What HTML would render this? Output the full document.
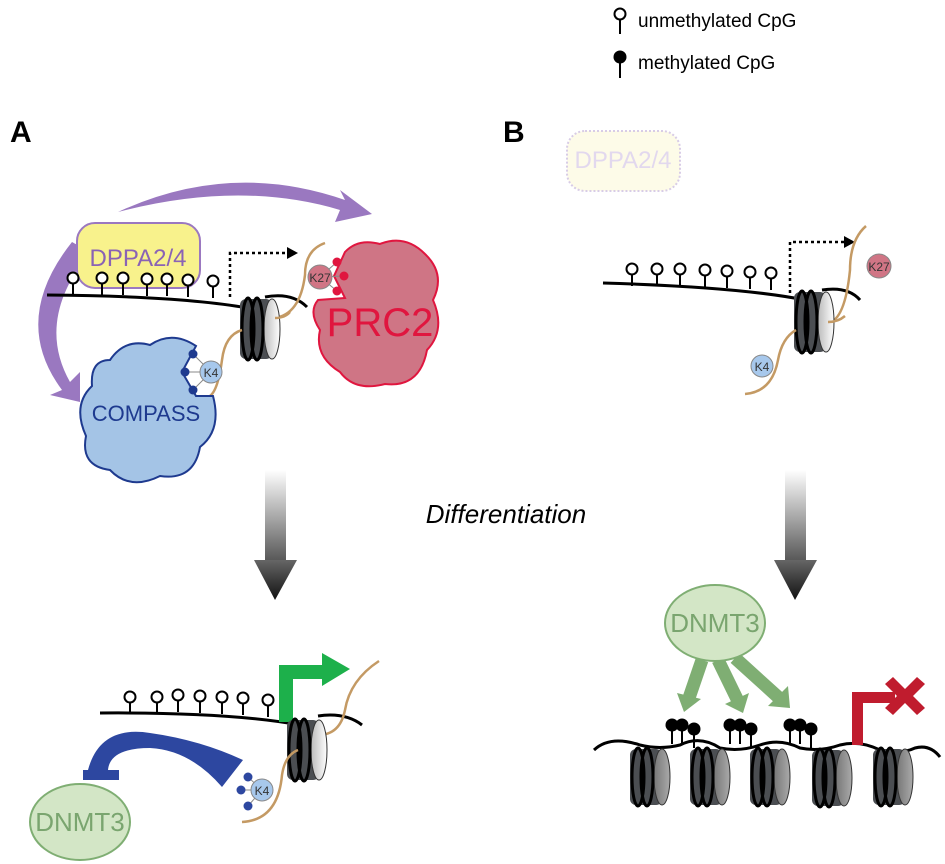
<!DOCTYPE html>
<html><head><meta charset="utf-8"><style>
html,body{margin:0;padding:0;background:#fff;}
svg{display:block;font-family:"Liberation Sans",Arial,sans-serif;}
</style></head><body>
<svg width="945" height="864" viewBox="0 0 945 864" xmlns="http://www.w3.org/2000/svg">
<defs>
<linearGradient id="col" x1="0" y1="0" x2="0" y2="1"><stop offset="0" stop-color="#fff"/><stop offset="1" stop-color="#555"/></linearGradient>
<linearGradient id="tri" x1="0" y1="0" x2="0" y2="1"><stop offset="0" stop-color="#666"/><stop offset="1" stop-color="#111"/></linearGradient>
<linearGradient id="face" x1="0" y1="0" x2="1" y2="0"><stop offset="0" stop-color="#bbb"/><stop offset="1" stop-color="#fff"/></linearGradient>
<linearGradient id="faceg" x1="0" y1="0" x2="1" y2="0"><stop offset="0" stop-color="#777"/><stop offset="1" stop-color="#aaa"/></linearGradient>
<g id="nuc">
<rect x="-18" y="-30" width="32" height="60" rx="6" fill="#4b4e52"/>
<ellipse cx="14" cy="0" rx="8" ry="30" fill="url(#face)" stroke="#333" stroke-width="1"/>
<ellipse cx="-10" cy="0" rx="6" ry="31" fill="none" stroke="#000" stroke-width="3"/>
<ellipse cx="-1" cy="0" rx="6" ry="31" fill="none" stroke="#000" stroke-width="3"/>
</g>
<g id="nucg">
<rect x="-18" y="-28" width="32" height="56" rx="6" fill="#4b4e52"/>
<ellipse cx="14" cy="0" rx="8" ry="28" fill="url(#faceg)" stroke="#333" stroke-width="1"/>
<ellipse cx="-10" cy="0" rx="6" ry="29" fill="none" stroke="#000" stroke-width="3"/>
<ellipse cx="-1" cy="0" rx="6" ry="29" fill="none" stroke="#000" stroke-width="3"/>
</g>
<g id="lop"><line x1="0" y1="0" x2="0" y2="12" stroke="#000" stroke-width="2"/><circle cx="0" cy="-5" r="5.5" fill="#fff" stroke="#000" stroke-width="2"/></g>
<g id="mlop"><line x1="0" y1="0" x2="0" y2="14" stroke="#000" stroke-width="2"/><circle cx="0" cy="-5" r="6.5" fill="#000"/></g>
</defs>

<!-- legend -->
<line x1="620" y1="19" x2="620" y2="34" stroke="#000" stroke-width="2"/><circle cx="620" cy="14" r="5.5" fill="#fff" stroke="#000" stroke-width="2"/>
<text x="638" y="27" font-size="19">unmethylated CpG</text>
<line x1="620" y1="60" x2="620" y2="78" stroke="#000" stroke-width="2"/><circle cx="620" cy="57" r="6.5" fill="#000"/>
<text x="638" y="69" font-size="19">methylated CpG</text>

<text x="10" y="142" font-size="30" font-weight="bold">A</text>
<text x="503" y="142" font-size="30" font-weight="bold">B</text>

<!-- Panel A top -->
<path d="M118 212 Q230 160 345 200 L340 190 L372 214 L335 222 L340 210 Q240 180 118 212 Z" fill="#9a78c0"/>
<path d="M72 242 Q10 320 62 390 L50 395 L80 402 L80 372 L70 382 Q35 320 90 252 Z" fill="#9a78c0"/>
<rect x="77" y="223" width="123" height="65" rx="18" fill="#f8f28c" stroke="#9b78c0" stroke-width="2"/>
<text x="138" y="266" font-size="24" fill="#8a63b5" text-anchor="middle">DPPA2/4</text>
<path d="M47 295 Q180 296 248 308" fill="none" stroke="#000" stroke-width="3"/>
<path d="M265 297 Q292 292 307 307" fill="none" stroke="#000" stroke-width="3"/>
<use href="#lop" x="73" y="283"/><use href="#lop" x="102" y="283"/><use href="#lop" x="123" y="283"/><use href="#lop" x="147" y="284"/><use href="#lop" x="167" y="284"/><use href="#lop" x="188" y="285"/><use href="#lop" x="213" y="286"/>
<path d="M230 297 L230 253 L288 253" fill="none" stroke="#000" stroke-width="2.5" stroke-dasharray="3,3"/>
<path d="M287 247 L298 253 L287 259 Z" fill="#000"/>
<!-- PRC2 -->
<path d="M345 252 Q358 238 380 244 Q405 234 425 254 Q446 274 433 300 Q446 330 427 350 Q420 388 385 384 Q355 392 340 372 Q314 356 320 330 Q308 312 318 300 L345 298 L334 276 Z" fill="#cf7585" stroke="#e0163f" stroke-width="2"/>
<text x="380" y="336" font-size="40" fill="#e0163f" text-anchor="middle">PRC2</text>
<line x1="320" y1="277" x2="337" y2="262" stroke="#888"/><line x1="320" y1="277" x2="344" y2="276" stroke="#888"/><line x1="320" y1="277" x2="337" y2="291" stroke="#888"/>
<circle cx="337" cy="262" r="4.5" fill="#e0163f"/><circle cx="344" cy="276" r="4.5" fill="#e0163f"/><circle cx="337" cy="291" r="4.5" fill="#e0163f"/>
<path d="M325 243 Q305 250 305 275 Q300 315 274 318" fill="none" stroke="#c49a64" stroke-width="2.5"/>
<circle cx="320" cy="277" r="12" fill="#d07585" stroke="#888"/>
<text x="320" y="282" font-size="12" text-anchor="middle" fill="#333">K27</text>
<use href="#nuc" x="258" y="329"/>
<path d="M275 318 Q285 318 290 312" fill="none" stroke="#c49a64" stroke-width="2.5"/>
<path d="M242 330 Q225 335 222 360 Q218 390 210 396" fill="none" stroke="#c49a64" stroke-width="2.5"/>
<!-- COMPASS -->
<path d="M110 360 Q125 338 150 345 Q172 330 196 346 L182 372 L196 396 L213 396 Q222 430 200 447 Q194 481 160 476 Q130 491 110 470 Q80 466 86 436 Q72 405 92 386 Q90 360 110 360 Z" fill="#a4c4e6" stroke="#1e3a8f" stroke-width="2"/>
<text x="146" y="421" font-size="22" fill="#1e3a8f" text-anchor="middle">COMPASS</text>
<line x1="211" y1="372" x2="193" y2="354" stroke="#888"/><line x1="211" y1="372" x2="185" y2="372" stroke="#888"/><line x1="211" y1="372" x2="193" y2="390" stroke="#888"/>
<circle cx="193" cy="354" r="4.5" fill="#1e3a8f"/><circle cx="185" cy="372" r="4.5" fill="#1e3a8f"/><circle cx="193" cy="390" r="4.5" fill="#1e3a8f"/>
<circle cx="211" cy="372" r="11" fill="#a7c8ec" stroke="#888"/>
<text x="211" y="377" font-size="12" text-anchor="middle" fill="#333">K4</text>

<!-- differentiation arrows -->
<rect x="265" y="470" width="21" height="92" fill="url(#col)"/>
<path d="M254 560 L297 560 L275 600 Z" fill="url(#tri)"/>
<rect x="785" y="470" width="21" height="92" fill="url(#col)"/>
<path d="M774 560 L817 560 L795 600 Z" fill="url(#tri)"/>
<text x="506" y="523" font-size="26" font-style="italic" text-anchor="middle">Differentiation</text>

<!-- Panel B top -->
<rect x="567" y="131" width="113" height="60" rx="18" fill="#fdfbe8" stroke="#d8cce6" stroke-width="2" stroke-dasharray="2,2"/>
<text x="623" y="168" font-size="24" fill="#e2d8ee" text-anchor="middle">DPPA2/4</text>
<path d="M603 283 Q740 287 805 300" fill="none" stroke="#000" stroke-width="3"/>
<path d="M822 290 Q848 286 860 300" fill="none" stroke="#000" stroke-width="3"/>
<use href="#lop" x="632" y="274"/><use href="#lop" x="657" y="274"/><use href="#lop" x="680" y="274"/><use href="#lop" x="705" y="275"/><use href="#lop" x="727" y="276"/><use href="#lop" x="750" y="277"/><use href="#lop" x="771" y="278"/>
<path d="M790 293 L790 242 L845 242" fill="none" stroke="#000" stroke-width="2.5" stroke-dasharray="3,3"/>
<path d="M844 236 L855 242 L844 248 Z" fill="#000"/>
<path d="M866 226 Q850 240 850 270 Q845 320 828 323" fill="none" stroke="#c49a64" stroke-width="2.5"/>
<use href="#nuc" x="812" y="322"/>
<path d="M828 322 Q838 322 845 316" fill="none" stroke="#c49a64" stroke-width="2.5"/>
<path d="M796 330 Q782 338 778 360 Q772 392 745 394" fill="none" stroke="#c49a64" stroke-width="2.5"/>
<circle cx="879" cy="266" r="12" fill="#d07585" stroke="#888"/>
<text x="879" y="271" font-size="12" text-anchor="middle" fill="#333">K27</text>
<circle cx="762" cy="366" r="11" fill="#a7c8ec" stroke="#888"/>
<text x="762" y="371" font-size="12" text-anchor="middle" fill="#333">K4</text>

<!-- Panel A bottom -->
<path d="M100 713 Q230 712 300 725" fill="none" stroke="#000" stroke-width="3"/>
<path d="M318 716 Q345 712 362 725" fill="none" stroke="#000" stroke-width="3"/>
<use href="#lop" x="130" y="702"/><use href="#lop" x="157" y="702"/><use href="#lop" x="178" y="700"/><use href="#lop" x="200" y="701"/><use href="#lop" x="222" y="702"/><use href="#lop" x="243" y="703"/><use href="#lop" x="268" y="705"/>
<path d="M279 722 L279 665 L322 665 L322 653 L350 669 L322 686 L322 679 L293 679 L293 722 Z" fill="#1db04b"/>
<path d="M379 661 Q350 680 345 710 Q340 735 318 735" fill="none" stroke="#c49a64" stroke-width="2.5"/>
<use href="#nuc" x="305" y="750"/>
<path d="M298 750 Q285 755 282 775 Q278 820 242 822" fill="none" stroke="#c49a64" stroke-width="2.5"/>
<path d="M88 770 Q100 725 150 733 Q200 740 243 760 L222 787 Q190 750 150 748 Q110 748 108 770 Z" fill="#2d47a0"/>
<rect x="83" y="770" width="36" height="10" fill="#2d47a0"/>
<line x1="262" y1="790" x2="248" y2="777" stroke="#888"/><line x1="262" y1="790" x2="241" y2="790" stroke="#888"/><line x1="262" y1="790" x2="248" y2="806" stroke="#888"/>
<circle cx="248" cy="777" r="4.5" fill="#2d47a0"/><circle cx="241" cy="790" r="4.5" fill="#2d47a0"/><circle cx="248" cy="806" r="4.5" fill="#2d47a0"/>
<circle cx="262" cy="790" r="11" fill="#a7c8ec" stroke="#888"/>
<text x="262" y="795" font-size="12" text-anchor="middle" fill="#333">K4</text>
<ellipse cx="80" cy="822" rx="50" ry="38" fill="#d3e6c6" stroke="#7fae73" stroke-width="2"/>
<text x="80" y="831" font-size="26" fill="#7aa56f" text-anchor="middle">DNMT3</text>

<!-- Panel B bottom -->
<g stroke="#7fae73" stroke-width="13" stroke-linecap="butt" fill="none">
<line x1="702" y1="660" x2="689" y2="698"/>
<line x1="718" y1="660" x2="737" y2="699"/>
<line x1="735" y1="658" x2="778" y2="697"/>
</g>
<g fill="#7fae73">
<path d="M701 699 L677 693 L684 712 Z"/>
<path d="M749 693 L725 704 L743 713 Z"/>
<path d="M788 686 L768 706 L790 708 Z"/>
</g>
<ellipse cx="715" cy="623" rx="50" ry="38" fill="#d3e6c6" stroke="#7fae73" stroke-width="2"/>
<text x="715" y="632" font-size="26" fill="#7aa56f" text-anchor="middle">DNMT3</text>
<path d="M594 750 Q610 735 640 745 Q660 750 680 745 Q700 735 720 748 Q740 752 760 745 Q780 738 800 748 Q820 752 840 745 Q860 740 880 750 Q900 755 915 748 Q930 744 940 757" fill="none" stroke="#000" stroke-width="3"/>
<use href="#nucg" x="648" y="777"/><use href="#nucg" x="708" y="777"/><use href="#nucg" x="768" y="777"/><use href="#nucg" x="830" y="778"/><use href="#nucg" x="891" y="777"/>
<use href="#mlop" x="672" y="730"/><use href="#mlop" x="682" y="730"/><use href="#mlop" x="694" y="734"/>
<use href="#mlop" x="730" y="730"/><use href="#mlop" x="740" y="730"/><use href="#mlop" x="751" y="734"/>
<use href="#mlop" x="790" y="730"/><use href="#mlop" x="800" y="730"/><use href="#mlop" x="811" y="734"/>
<path d="M852 745 L852 692 L895 692 L895 703 L863 703 L863 745 Z" fill="#c01c2e"/>
<path d="M885 684 L893 677 L905 689 L917 677 L925 684 L913 696 L925 708 L917 715 L905 703 L893 715 L885 708 L897 696 Z" fill="#c01c2e"/>
</svg>
</body></html>
